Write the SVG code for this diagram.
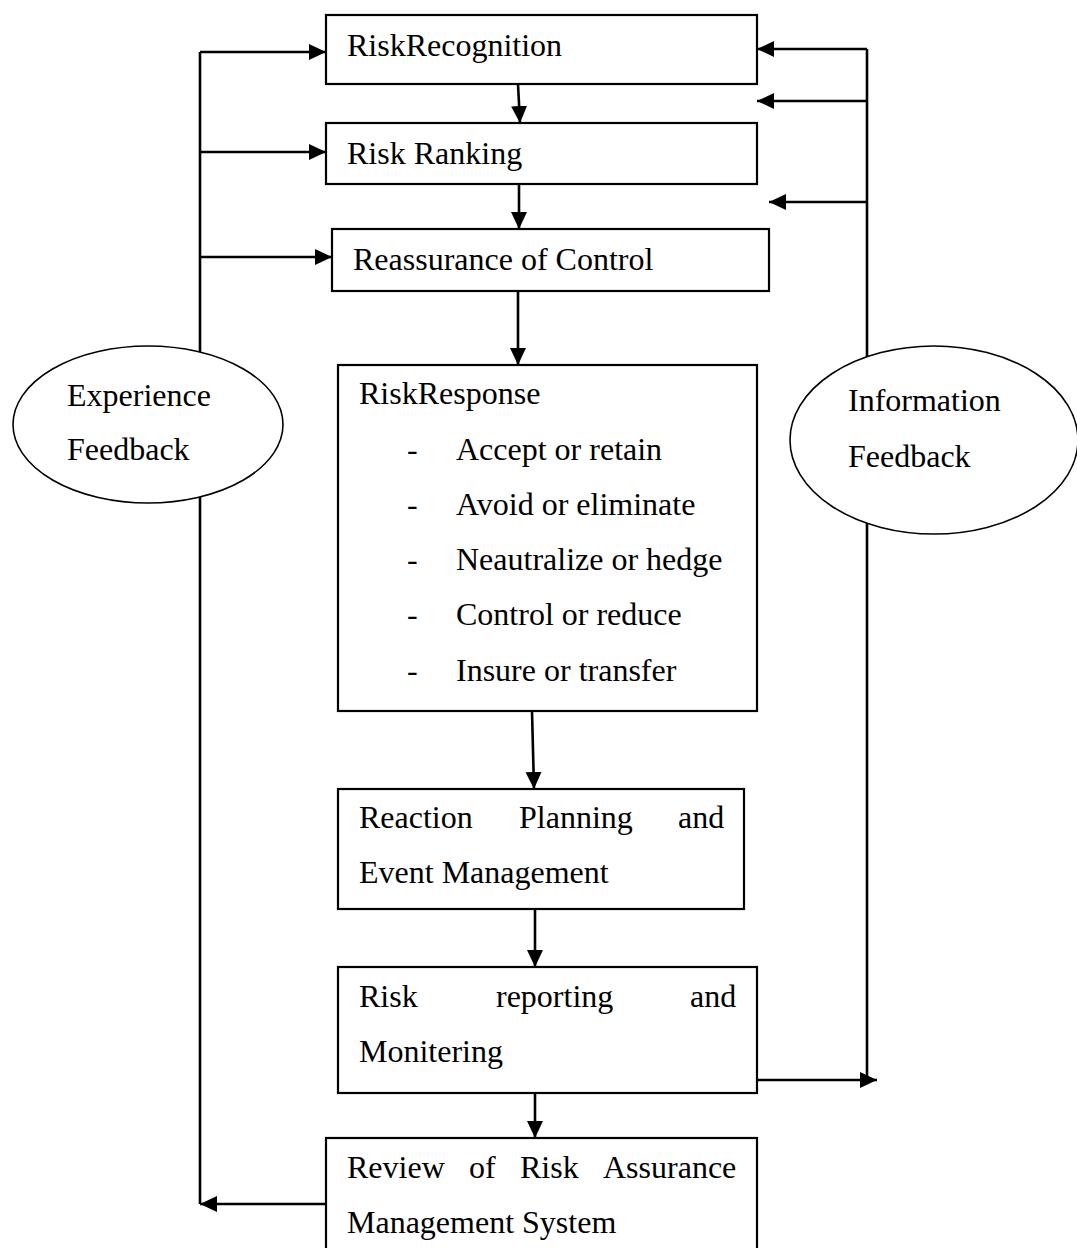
<svg xmlns="http://www.w3.org/2000/svg" width="1077" height="1248" viewBox="0 0 1077 1248">
  <style>
    .box { fill: #ffffff; stroke: #000000; stroke-width: 2.2; }
    .oval { fill: #ffffff; stroke: #000000; stroke-width: 1.6; }
    .wire { fill: none; stroke: #000000; stroke-width: 2.6; }
    .arrow { fill: none; stroke: #000000; stroke-width: 2.6; marker-end: url(#head); }
    text { font-family: "Liberation Serif", "Times New Roman", serif; font-size: 32px; fill: #000000; }
  </style>
  <defs>
    <marker id="head" markerUnits="userSpaceOnUse" markerWidth="18" markerHeight="18" viewBox="0 0 18 18" refX="17" refY="9" orient="auto">
      <path d="M0,1 L17,9 L0,17 Z" fill="#000000"/>
    </marker>
  </defs>

  <rect width="1077" height="1248" fill="#ffffff"/>

  <!-- connectors -->
  <g id="connectors">
    <!-- experience feedback loop (left) -->
    <line class="wire" x1="200" y1="52" x2="200" y2="1204"/>
    <line class="arrow" x1="200" y1="52" x2="326" y2="52"/>
    <line class="arrow" x1="200" y1="152" x2="326" y2="152"/>
    <line class="arrow" x1="200" y1="257" x2="332" y2="257"/>
    <line class="arrow" x1="326" y1="1204" x2="200" y2="1204"/>

    <!-- information feedback loop (right) -->
    <line class="wire" x1="867" y1="49" x2="867" y2="1080"/>
    <line class="arrow" x1="867" y1="49" x2="757" y2="49"/>
    <line class="arrow" x1="867" y1="101" x2="757" y2="101"/>
    <line class="arrow" x1="867" y1="202" x2="769" y2="202"/>
    <line class="arrow" x1="757" y1="1080" x2="877" y2="1080"/>

    <!-- main flow -->
    <line class="arrow" x1="518" y1="84" x2="520" y2="123"/>
    <line class="arrow" x1="519" y1="184" x2="519" y2="229"/>
    <line class="arrow" x1="518" y1="291" x2="518" y2="365"/>
    <line class="arrow" x1="532" y1="711" x2="534" y2="789"/>
    <line class="arrow" x1="535" y1="909" x2="535" y2="967"/>
    <line class="arrow" x1="535" y1="1093" x2="535" y2="1138"/>
  </g>

  <g id="risk-recognition">
    <rect class="box" x="326" y="15" width="431" height="69"/>
    <text x="347" y="56">RiskRecognition</text>
  </g>

  <g id="risk-ranking">
    <rect class="box" x="326" y="123" width="431" height="61"/>
    <text x="347" y="164">Risk Ranking</text>
  </g>

  <g id="reassurance-of-control">
    <rect class="box" x="332" y="229" width="437" height="62"/>
    <text x="353" y="270">Reassurance of Control</text>
  </g>

  <g id="risk-response">
    <rect class="box" x="338" y="365" width="419" height="346"/>
    <text x="359" y="404">RiskResponse</text>
    <text x="407" y="460">-</text><text x="456" y="460">Accept or retain</text>
    <text x="407" y="515">-</text><text x="456" y="515">Avoid or eliminate</text>
    <text x="407" y="570">-</text><text x="456" y="570">Neautralize or hedge</text>
    <text x="407" y="625">-</text><text x="456" y="625">Control or reduce</text>
    <text x="407" y="681">-</text><text x="456" y="681">Insure or transfer</text>
  </g>

  <g id="reaction-planning">
    <rect class="box" x="338" y="789" width="406" height="120"/>
    <text x="359" y="828">Reaction</text>
    <text x="519" y="828">Planning</text>
    <text x="678" y="828">and</text>
    <text x="359" y="883">Event Management</text>
  </g>

  <g id="risk-reporting">
    <rect class="box" x="338" y="967" width="419" height="126"/>
    <text x="359" y="1007">Risk</text>
    <text x="496" y="1007">reporting</text>
    <text x="690" y="1007">and</text>
    <text x="359" y="1062">Monitering</text>
  </g>

  <g id="review-system">
    <rect class="box" x="326" y="1138" width="431" height="130"/>
    <text x="347" y="1178">Review</text>
    <text x="469" y="1178">of</text>
    <text x="520" y="1178">Risk</text>
    <text x="603" y="1178">Assurance</text>
    <text x="347" y="1233">Management System</text>
  </g>

  <g id="experience-feedback">
    <ellipse class="oval" cx="148" cy="424.5" rx="135" ry="78.5"/>
    <text x="67" y="406">Experience</text>
    <text x="67" y="460">Feedback</text>
  </g>

  <g id="information-feedback">
    <ellipse class="oval" cx="934" cy="440" rx="144" ry="94"/>
    <text x="848" y="411">Information</text>
    <text x="848" y="467">Feedback</text>
  </g>
</svg>
